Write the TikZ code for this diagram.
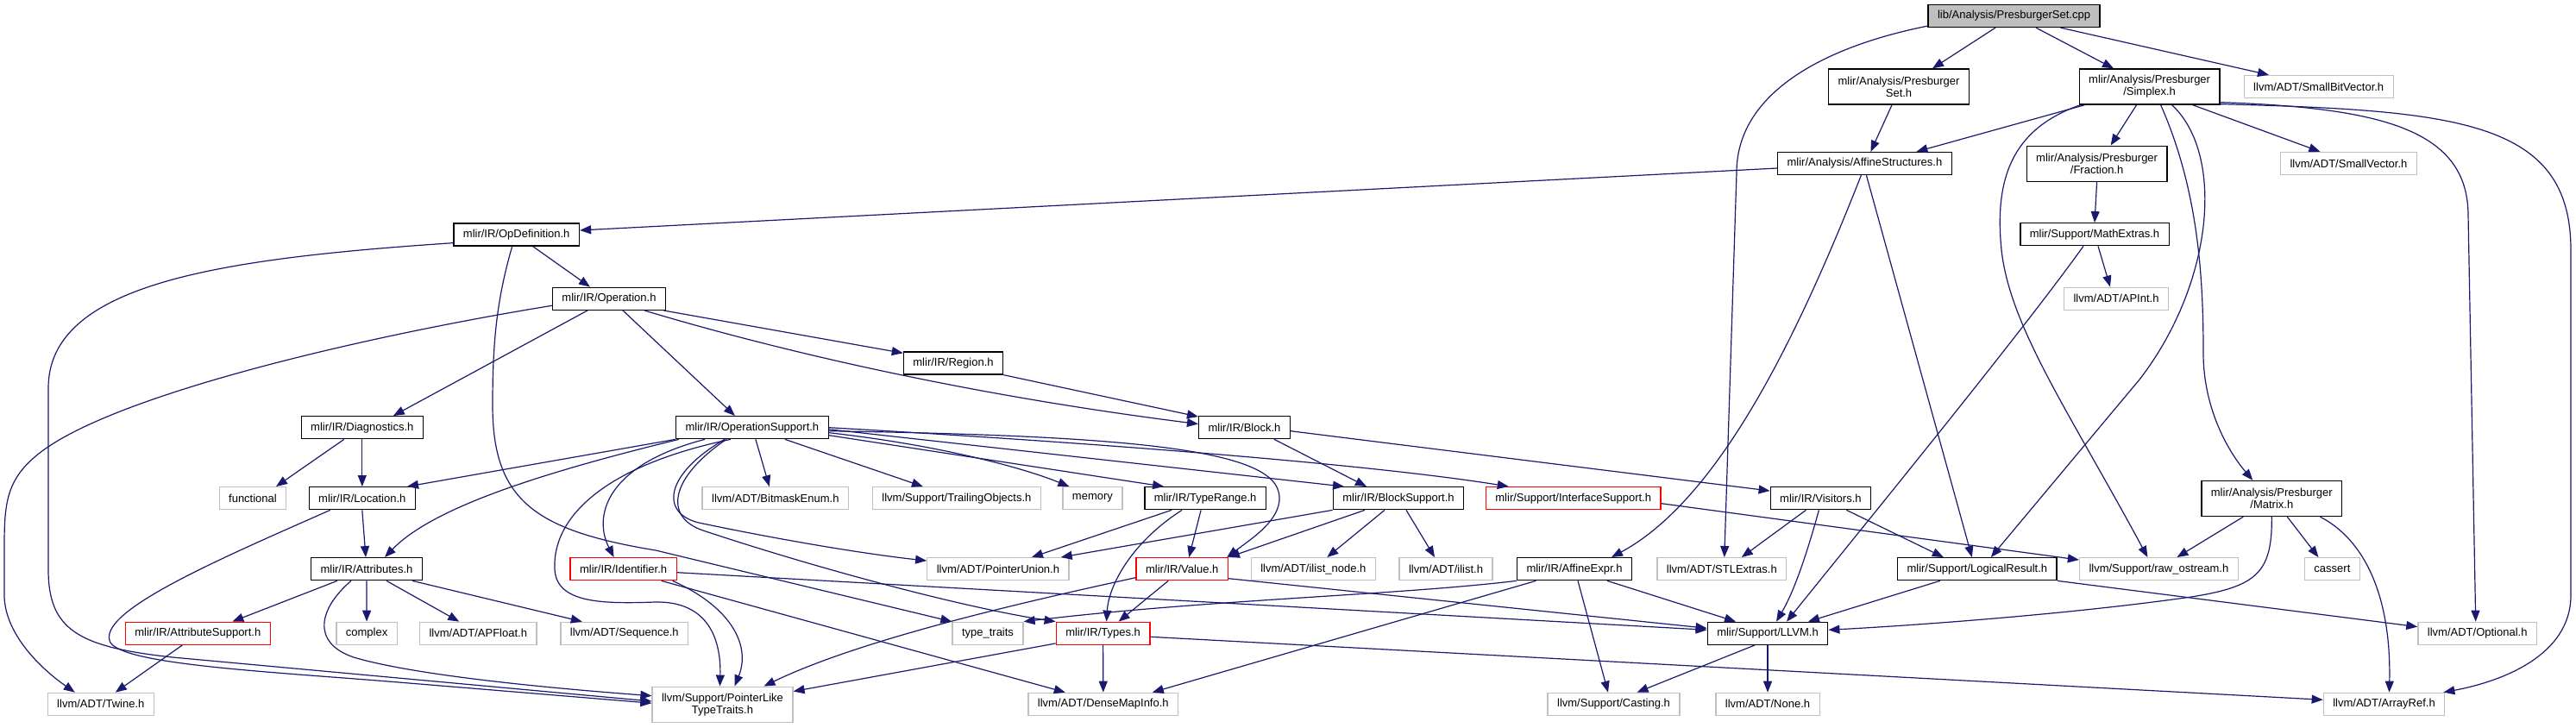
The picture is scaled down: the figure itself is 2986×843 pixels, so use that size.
\documentclass[tikz,border=0pt]{standalone}
\usepackage{fontspec}
\setmainfont{Liberation Sans}
\usetikzlibrary{arrows.meta}
\definecolor{edgeblue}{HTML}{191970}
\definecolor{extgrey}{HTML}{BFBFBF}
\definecolor{rootgrey}{HTML}{BFBFBF}
\definecolor{warnred}{HTML}{FF0000}
\newcommand{\nodefont}{\fontsize{13pt}{14pt}\selectfont}
\begin{document}
\begin{tikzpicture}[x=1pt,y=1pt,
  nb/.style={draw=black, line width=1.3pt, font=\nodefont, inner xsep=11pt, inner ysep=0pt, minimum height=26pt},
  ext/.style={nb, draw=extgrey},
  warn/.style={nb, draw=warnred},
  two/.style={align=center, minimum height=41pt},
  dep/.style={draw=edgeblue, line width=1.2pt, -{Triangle[length=13pt,width=10pt]}}]
\fill[white] (0,0) rectangle (2986,-843);
\useasboundingbox (0,0) rectangle (2986,-843);

\node[nb, fill=rootgrey] (root) at (2334.5,-18.5) {lib/Analysis/PresburgerSet.cpp};
\node[nb, two] (pset) at (2201,-100.5) {mlir/Analysis/Presburger\\Set.h};
\node[nb, two] (simplex) at (2491.6,-100.5) {mlir/Analysis/Presburger\\/Simplex.h};
\node[ext] (sbv) at (2687.7,-100.5) {llvm/ADT/SmallBitVector.h};
\node[nb] (affs) at (2161.4,-189.5) {mlir/Analysis/AffineStructures.h};
\node[nb, two] (fraction) at (2430.6,-189.7) {mlir/Analysis/Presburger\\/Fraction.h};
\node[ext] (svec) at (2722.4,-189.5) {llvm/ADT/SmallVector.h};
\node[nb] (mathx) at (2428,-271.7) {mlir/Support/MathExtras.h};
\node[ext] (apint) at (2453,-346.2) {llvm/ADT/APInt.h};
\node[nb] (opdef) at (598.7,-272) {mlir/IR/OpDefinition.h};
\node[nb] (oper) at (706,-346.3) {mlir/IR/Operation.h};
\node[nb] (region) at (1105,-421) {mlir/IR/Region.h};
\node[nb] (diag) at (419.8,-495.7) {mlir/IR/Diagnostics.h};
\node[nb] (opsup) at (871.9,-495.7) {mlir/IR/OperationSupport.h};
\node[nb] (block) at (1442.5,-495.7) {mlir/IR/Block.h};
\node[ext] (functional) at (293,-577.7) {functional};
\node[nb] (loc) at (419.8,-577.7) {mlir/IR/Location.h};
\node[ext] (bitmask) at (898.8,-577.7) {llvm/ADT/BitmaskEnum.h};
\node[ext] (trailing) at (1108.9,-577.7) {llvm/Support/TrailingObjects.h};
\node[ext] (memory) at (1266.4,-577.7) {memory};
\node[nb] (typerange) at (1397.1,-577.7) {mlir/IR/TypeRange.h};
\node[nb] (blocksup) at (1621,-577.7) {mlir/IR/BlockSupport.h};
\node[warn] (iface) at (1823.7,-577.7) {mlir/Support/InterfaceSupport.h};
\node[nb] (visitors) at (2110.4,-577.7) {mlir/IR/Visitors.h};
\node[nb, two] (matrix) at (2633.3,-578) {mlir/Analysis/Presburger\\/Matrix.h};
\node[nb] (attrs) at (425,-659.7) {mlir/IR/Attributes.h};
\node[warn] (ident) at (722.6,-659.7) {mlir/IR/Identifier.h};
\node[ext] (ptrunion) at (1156.9,-659.7) {llvm/ADT/PointerUnion.h};
\node[warn] (value) at (1370.2,-659.7) {mlir/IR/Value.h};
\node[ext] (ilistnode) at (1522.3,-659.7) {llvm/ADT/ilist\_node.h};
\node[ext] (ilist) at (1676,-659.7) {llvm/ADT/ilist.h};
\node[nb] (affexpr) at (1825,-659.7) {mlir/IR/AffineExpr.h};
\node[ext] (stl) at (1995.8,-659.7) {llvm/ADT/STLExtras.h};
\node[nb] (logres) at (2291.8,-659.7) {mlir/Support/LogicalResult.h};
\node[ext] (rawos) at (2502.4,-659.7) {llvm/Support/raw\_ostream.h};
\node[ext] (cassert) at (2703.4,-659.7) {cassert};
\node[warn] (attrsup) at (229.3,-734.3) {mlir/IR/AttributeSupport.h};
\node[ext] (complex) at (425.1,-734.3) {complex};
\node[ext] (apfloat) at (554.3,-734.3) {llvm/ADT/APFloat.h};
\node[ext] (sequence) at (723.8,-734.3) {llvm/ADT/Sequence.h};
\node[ext] (typetraits) at (1145,-734.3) {type\_traits};
\node[warn] (types) at (1278.6,-734.3) {mlir/IR/Types.h};
\node[nb] (llvmh) at (2049,-734.3) {mlir/Support/LLVM.h};
\node[ext] (optional) at (2871.7,-734.3) {llvm/ADT/Optional.h};
\node[ext] (twine) at (116.8,-816.3) {llvm/ADT/Twine.h};
\node[ext, two] (ptrlike) at (837.5,-816.7) {llvm/Support/PointerLike\\TypeTraits.h};
\node[ext] (densemap) at (1278.8,-816.3) {llvm/ADT/DenseMapInfo.h};
\node[ext] (casting) at (1870.5,-816.3) {llvm/Support/Casting.h};
\node[ext] (none) at (2049,-816.3) {llvm/ADT/None.h};
\node[ext] (arrayref) at (2763.5,-816.3) {llvm/ADT/ArrayRef.h};

% root
\draw[dep] ([xshift=-21.5pt]root.south) -- ([xshift=39pt]pset.north);
\draw[dep] ([xshift=25.5pt]root.south) -- ([xshift=-41.6pt]simplex.north);
\draw[dep] ([xshift=54pt]root.south) -- ([xshift=-57.7pt]sbv.north);
\draw[dep] ([yshift=2pt]root.south west) .. controls (2110,-55) and (2013,-110) .. (2013,-200) -- ([xshift=3pt]stl.north);
% PresburgerSet.h
\draw[dep] ([xshift=-8pt]pset.south) -- ([xshift=7pt]affs.north);
% Simplex.h
\draw[dep] ([xshift=-75pt]simplex.south) -- ([xshift=60pt]affs.north);
\draw[dep] ([xshift=-15pt]simplex.south) -- ([xshift=16pt]fraction.north);
\draw[dep] ([xshift=50pt]simplex.south) -- ([xshift=-33pt]svec.north);
\draw[dep] ([xshift=13pt]simplex.south) .. controls (2548,-220) and (2554,-320) .. (2554,-410) .. controls (2554,-470) and (2580,-520) .. ([xshift=-22pt]matrix.north);
\draw[dep] ([xshift=-80pt]simplex.south) .. controls (2330,-150) and (2312,-210) .. (2320,-290) .. controls (2330,-380) and (2400,-480) .. ([xshift=-13pt]rawos.north);
\draw[dep] ([xshift=26pt]simplex.south) .. controls (2580,-180) and (2565,-330) .. (2480,-440) -- ([xshift=16pt]logres.north);
\draw[dep] ([yshift=3pt]simplex.south east) .. controls (2760,-125) and (2861,-150) .. (2861,-250) -- ([xshift=-2pt]optional.north);
\draw[dep] ([yshift=1pt]simplex.south east) .. controls (2850,-128) and (2980,-140) .. (2980,-290) -- (2980,-690) .. controls (2980,-760) and (2900,-790) .. ([xshift=-2pt]arrayref.north east);
% Fraction, MathExtras
\draw[dep] (fraction.south) -- (mathx.north);
\draw[dep] ([xshift=4pt]mathx.south) -- ([xshift=-7pt]apint.north);
\draw[dep] ([xshift=-13pt]mathx.south) .. controls (2340,-390) and (2160,-610) .. ([xshift=22pt]llvmh.north);
% AffineStructures
\draw[dep] ([yshift=-5.5pt]affs.west) -- ([yshift=5pt]opdef.east);
\draw[dep] ([xshift=-4pt]affs.south) .. controls (2080,-400) and (1990,-580) .. ([xshift=43pt]affexpr.north);
\draw[dep] ([xshift=2pt]affs.south) -- ([xshift=-6pt]logres.north);
% OpDefinition
\draw[dep] ([xshift=19pt]opdef.south) -- ([xshift=-22pt]oper.north);
\draw[dep] ([yshift=4pt]opdef.south west) .. controls (250,-300) and (56,-330) .. (56,-450) -- (56,-660) .. controls (56,-730) and (90,-750) .. (200,-762) -- ([yshift=3.7pt]ptrlike.west);
\draw[dep] ([xshift=-5pt]opdef.south) .. controls (575,-350) and (571,-400) .. (571,-470) .. controls (571,-580) and (620,-615) .. (760,-638) -- (typetraits.north west);
% Operation
\draw[dep] ([yshift=-8pt]oper.west) .. controls (420,-390) and (120,-460) .. (40,-530) .. controls (5,-560) and (5,-590) .. (5,-640) -- (5,-690) .. controls (5,-730) and (40,-770) .. ([xshift=-30pt]twine.north);
\draw[dep] ([xshift=-25pt]oper.south) -- ([xshift=36pt]diag.north);
\draw[dep] ([xshift=16pt]oper.south) -- ([xshift=-20pt]opsup.north);
\draw[dep] ([xshift=-3pt]oper.south east) -- ([yshift=-2pt]region.north west);
\draw[dep] ([xshift=41pt]oper.south) .. controls (880,-400) and (1100,-455) .. ([yshift=-9.5pt]block.north west);
\draw[dep] (region.south east) -- ([yshift=-1pt]block.north west);
% Diagnostics, Location, Attributes
\draw[dep] ([xshift=-21pt]diag.south) -- ([xshift=27pt]functional.north);
\draw[dep] (diag.south) -- (loc.north);
\draw[dep] (loc.south) -- ([xshift=-1pt]attrs.north);
\draw[dep] ([xshift=-37pt]loc.south) .. controls (250,-650) and (110,-710) .. (128,-745) .. controls (145,-770) and (300,-778) .. (450,-790) -- ([yshift=1.5pt]ptrlike.west);
\draw[dep] ([xshift=-34pt]attrs.south) -- ([xshift=40pt]attrsup.north);
\draw[dep] (attrs.south) -- (complex.north);
\draw[dep] ([xshift=23pt]attrs.south) -- ([xshift=-22pt]apfloat.north);
\draw[dep] ([xshift=53pt]attrs.south) -- ([xshift=-49pt]sequence.north);
\draw[dep] ([xshift=-18pt]attrs.south) .. controls (370,-705) and (360,-745) .. (410,-762) .. controls (470,-780) and (600,-795) .. ([yshift=10pt]ptrlike.west);
\draw[dep] ([xshift=-18pt]attrsup.south) -- ([xshift=17pt]twine.north);
% OperationSupport
\draw[dep] (opsup.south west) -- ([xshift=-10pt]loc.north east);
\draw[dep] ([xshift=4pt]opsup.south west) .. controls (620,-550) and (500,-590) .. ([xshift=21pt]attrs.north);
\draw[dep] ([xshift=-55pt]opsup.south) .. controls (700,-540) and (688,-600) .. ([xshift=-11pt]ident.north);
\draw[dep] ([xshift=-25pt]opsup.south) .. controls (700,-540) and (640,-600) .. (643,-660) .. controls (645,-700) and (700,-700) .. (760,-698) .. controls (820,-697) and (836,-740) .. ([xshift=-3pt]ptrlike.north);
\draw[dep] ([xshift=4pt]opsup.south) -- ([xshift=-7pt]bitmask.north);
\draw[dep] ([xshift=38pt]opsup.south) -- ([xshift=-39pt]trailing.north);
\draw[dep] ([yshift=-6pt]opsup.east) .. controls (1080,-515) and (1180,-540) .. ([xshift=-27pt]memory.north);
\draw[dep] ([yshift=-9pt]opsup.east) -- ([xshift=-48pt]typerange.north);
\draw[dep] ([xshift=-32pt]opsup.south) .. controls (770,-550) and (765,-595) .. (810,-606) .. controls (900,-625) and (1000,-642) .. ([yshift=-4pt]ptrunion.north west);
\draw[dep] ([xshift=-30pt]opsup.south) .. controls (775,-555) and (770,-600) .. (815,-615) .. controls (950,-660) and (1120,-705) .. (types.north west);
\draw[dep] ([yshift=-4pt]opsup.east) .. controls (1300,-505) and (1470,-520) .. (1482,-570) .. controls (1490,-600) and (1450,-625) .. ([xshift=52pt]value.north);
\draw[dep] ([yshift=-2pt]opsup.east) -- ([xshift=-63pt]blocksup.north);
\draw[dep] (opsup.east) .. controls (1300,-515) and (1600,-540) .. ([xshift=-75pt]iface.north);
% Identifier
\draw[dep] ([xshift=57pt]ident.south) .. controls (850,-705) and (870,-750) .. ([xshift=14pt]ptrlike.north);
\draw[dep] ([xshift=44pt]ident.south) -- ([xshift=-44pt]densemap.north);
\draw[dep] ([yshift=-4pt]ident.east) -- ([yshift=4pt]llvmh.west);
% Block
\draw[dep] ([xshift=34.5pt]block.south) -- ([xshift=-37pt]blocksup.north);
\draw[dep] ([yshift=-4pt]block.east) -- ([yshift=-5pt]visitors.north west);
% TypeRange
\draw[dep] ([xshift=-39pt]typerange.south) -- ([xshift=39pt]ptrunion.north);
\draw[dep] ([xshift=-27pt]typerange.south) .. controls (1310,-630) and (1285,-680) .. ([xshift=4pt]types.north);
\draw[dep] ([xshift=-5pt]typerange.south) -- ([xshift=8pt]value.north);
% BlockSupport
\draw[dep] (blocksup.south west) -- ([xshift=-10pt]ptrunion.north east);
\draw[dep] ([xshift=-39pt]blocksup.south) -- (value.north east);
\draw[dep] ([xshift=-16pt]blocksup.south) -- ([xshift=16pt]ilistnode.north);
\draw[dep] ([xshift=9pt]blocksup.south) -- ([xshift=-13pt]ilist.north);
% Value
\draw[dep] ([yshift=-10pt]value.west) .. controls (1200,-695) and (1000,-740) .. ([xshift=48pt]ptrlike.north);
\draw[dep] ([xshift=-16pt]value.south) -- ([xshift=18pt]types.north);
\draw[dep] ([yshift=-11pt]value.east) -- ([yshift=6pt]llvmh.west);
% Types
\draw[dep] ([yshift=2pt]types.south west) -- ([yshift=-6pt]ptrlike.north east);
\draw[dep] (types.south) -- (densemap.north);
\draw[dep] ([yshift=-4pt]types.east) -- ([yshift=5pt]arrayref.west);
% InterfaceSupport, Visitors
\draw[dep] ([yshift=-6pt]iface.east) -- ([yshift=-3pt]rawos.north west);
\draw[dep] ([xshift=-17pt]visitors.south) -- ([xshift=23pt]stl.north);
\draw[dep] ([xshift=-2pt]visitors.south) .. controls (2095,-640) and (2080,-685) .. ([xshift=10pt]llvmh.north);
\draw[dep] ([xshift=30pt]visitors.south) -- ([xshift=-39pt]logres.north);
% AffineExpr
\draw[dep] (affexpr.south west) .. controls (1620,-690) and (1400,-695) .. (typetraits.north east);
\draw[dep] ([xshift=-44.5pt]affexpr.south) -- ([xshift=57pt]densemap.north);
\draw[dep] ([xshift=4pt]affexpr.south) -- ([xshift=-6.5pt]casting.north);
\draw[dep] ([xshift=38pt]affexpr.south) -- ([xshift=-37pt]llvmh.north);
% LogicalResult, LLVM
\draw[dep] ([xshift=-43pt]logres.south) -- ([xshift=47pt]llvmh.north);
\draw[dep] (logres.south east) -- ([yshift=-6pt]optional.north west);
\draw[dep] ([xshift=-15pt]llvmh.south) -- ([xshift=27pt]casting.north);
\draw[dep] (llvmh.south) -- (none.north);
% Matrix
\draw[dep] ([xshift=-33pt]matrix.south) -- ([xshift=21pt]rawos.north);
\draw[dep] ([xshift=18pt]matrix.south) -- ([xshift=-16pt]cassert.north);
\draw[dep] ([xshift=56pt]matrix.south) .. controls (2740,-625) and (2772,-690) .. ([xshift=6pt]arrayref.north);
\draw[dep] (matrix.south) .. controls (2634,-665) and (2615,-680) .. (2540,-692) .. controls (2400,-712) and (2220,-725) .. ([yshift=4pt]llvmh.east);
\end{tikzpicture}
\end{document}
